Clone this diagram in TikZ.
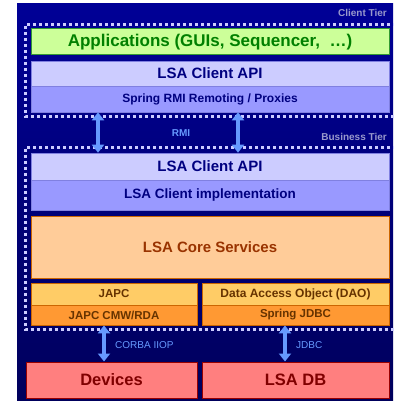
\documentclass[tikz,border=0pt]{standalone}
\usepackage{fontspec}
\setmainfont{Liberation Sans}
\usetikzlibrary{arrows.meta}
\definecolor{bgtop}{HTML}{000096}
\definecolor{bgbot}{HTML}{00005C}
\definecolor{dotc}{HTML}{CCCCFF}
\definecolor{appfill}{HTML}{CCFF99}
\definecolor{appdraw}{HTML}{339933}
\definecolor{apptext}{HTML}{008000}
\definecolor{apifill}{HTML}{CCCCFF}
\definecolor{apidraw}{HTML}{8080E0}
\definecolor{navytext}{HTML}{000080}
\definecolor{rmifill}{HTML}{9999FF}
\definecolor{corefill}{HTML}{FFCC99}
\definecolor{coredraw}{HTML}{CC6600}
\definecolor{coretext}{HTML}{993300}
\definecolor{japcfill}{HTML}{FFCC66}
\definecolor{cmwfill}{HTML}{FF9933}
\definecolor{brtext}{HTML}{663300}
\definecolor{devfill}{HTML}{FF7F7F}
\definecolor{devdraw}{HTML}{990000}
\definecolor{devtext}{HTML}{800000}
\definecolor{arrc}{HTML}{6699FF}
\definecolor{tiertext}{HTML}{9999CC}
\tikzset{
  box/.style={rectangle, inner sep=0pt, font=\bfseries},
  tierbox/.style={draw=dotc, line width=3pt, dash pattern=on 3pt off 3pt},
  arr/.style={draw=arrc, line width=4pt,
    {Triangle[width=12pt,length=8pt]}-{Triangle[width=12pt,length=8pt]}},
  lbl/.style={text=arrc, inner sep=0pt, font=\fontsize{10}{12}\selectfont},
  tier/.style={text=tiertext, inner sep=0pt, anchor=east, font=\bfseries\fontsize{10}{12}\selectfont},
}
\begin{document}
\begin{tikzpicture}[x=1pt,y=-1pt]
\useasboundingbox (0,0) rectangle (393,401);
\shade[top color=bgtop, bottom color=bgbot] (17,4) rectangle (393,401);

% tier borders
\draw[tierbox] (396,24.5) -- (25.5,24.5) -- (25.5,116.5) -- (396,116.5);
\draw[tierbox] (396,147) -- (25.5,147) -- (25.5,329.5) -- (396,329.5);

% client tier
\node[box, fill=appfill, draw=appdraw, line width=1pt, text=apptext,
  minimum width=358pt, minimum height=26pt, font=\bfseries\fontsize{17}{20}\selectfont]
  (app) at (210,42) {Applications (GUIs, Sequencer, \ …)};
\node[box, fill=apifill, draw=apidraw, line width=0.6pt, text=navytext,
  minimum width=358pt, minimum height=25pt, font=\bfseries\fontsize{15}{18}\selectfont]
  (capi1) at (210,73.5) {LSA Client API};
\node[box, fill=rmifill, draw=apidraw, line width=0.6pt, text=navytext,
  minimum width=358pt, minimum height=26pt, font=\bfseries\fontsize{12}{14}\selectfont]
  (rmi) at (210,99) {Spring RMI Remoting / Proxies};

% business tier
\node[box, fill=apifill, draw=apidraw, line width=0.6pt, text=navytext,
  minimum width=358pt, minimum height=27pt, font=\bfseries\fontsize{15}{18}\selectfont]
  (capi2) at (210,166.5) {LSA Client API};
\node[box, fill=rmifill, draw=apidraw, line width=0.6pt, text=navytext,
  minimum width=358pt, minimum height=30pt, font=\bfseries\fontsize{13.5}{16}\selectfont]
  (impl) at (210,195) {LSA Client implementation};
\node[box, fill=corefill, draw=coredraw, line width=1pt, text=coretext,
  minimum width=358pt, minimum height=62pt, font=\bfseries\fontsize{15}{18}\selectfont]
  (core) at (210,247) {LSA Core Services};
\node[box, fill=japcfill, draw=coredraw, line width=0.8pt, text=brtext,
  minimum width=166pt, minimum height=22pt, font=\bfseries\fontsize{11.5}{14}\selectfont]
  (japc) at (114,294) {JAPC};
\node[box, fill=cmwfill, draw=coredraw, line width=0.8pt, text=brtext,
  minimum width=166pt, minimum height=20pt, font=\bfseries\fontsize{11.5}{14}\selectfont]
  (cmw) at (114,315) {JAPC CMW/RDA};
\node[box, fill=japcfill, draw=coredraw, line width=0.8pt, text=brtext,
  minimum width=187pt, minimum height=22pt, font=\bfseries\fontsize{12}{14}\selectfont]
  (dao) at (295.5,294) {Data Access Object (DAO)};
\node[box, fill=cmwfill, draw=coredraw, line width=0.8pt, text=brtext,
  minimum width=187pt, minimum height=20pt, font=\bfseries\fontsize{11.5}{14}\selectfont]
  (sjdbc) at (295.5,315) {Spring JDBC};

% resources
\node[box, fill=devfill, draw=devdraw, line width=1pt, text=devtext,
  minimum width=171pt, minimum height=36pt, font=\bfseries\fontsize{16.5}{20}\selectfont]
  (dev) at (111.5,380) {Devices};
\node[box, fill=devfill, draw=devdraw, line width=1pt, text=devtext,
  minimum width=187pt, minimum height=36pt, font=\bfseries\fontsize{16.5}{20}\selectfont]
  (db) at (295.5,380) {LSA DB};

% arrows
\coordinate (xa) at (98,0);
\coordinate (xb) at (238,0);
\coordinate (xc) at (104,0);
\coordinate (xd) at (285,0);
\draw[arr] (rmi.south -| xa) -- (capi2.north -| xa);
\draw[arr] (rmi.south -| xb) -- (capi2.north -| xb);
\draw[arr] (cmw.south -| xc) -- (dev.north -| xc);
\draw[arr] (sjdbc.south -| xd) -- (db.north -| xd);

% labels
\node[lbl, font=\bfseries\fontsize{10}{12}\selectfont] (lrmi) at (181,133) {RMI};
\node[lbl, anchor=west] (lcorba) at (115,345) {CORBA IIOP};
\node[lbl, anchor=west] (ljdbc) at (296,345) {JDBC};
\node[tier] (tclient) at (387,13) {Client Tier};
\node[tier] (tbus) at (387,137) {Business Tier};
\end{tikzpicture}
\end{document}
